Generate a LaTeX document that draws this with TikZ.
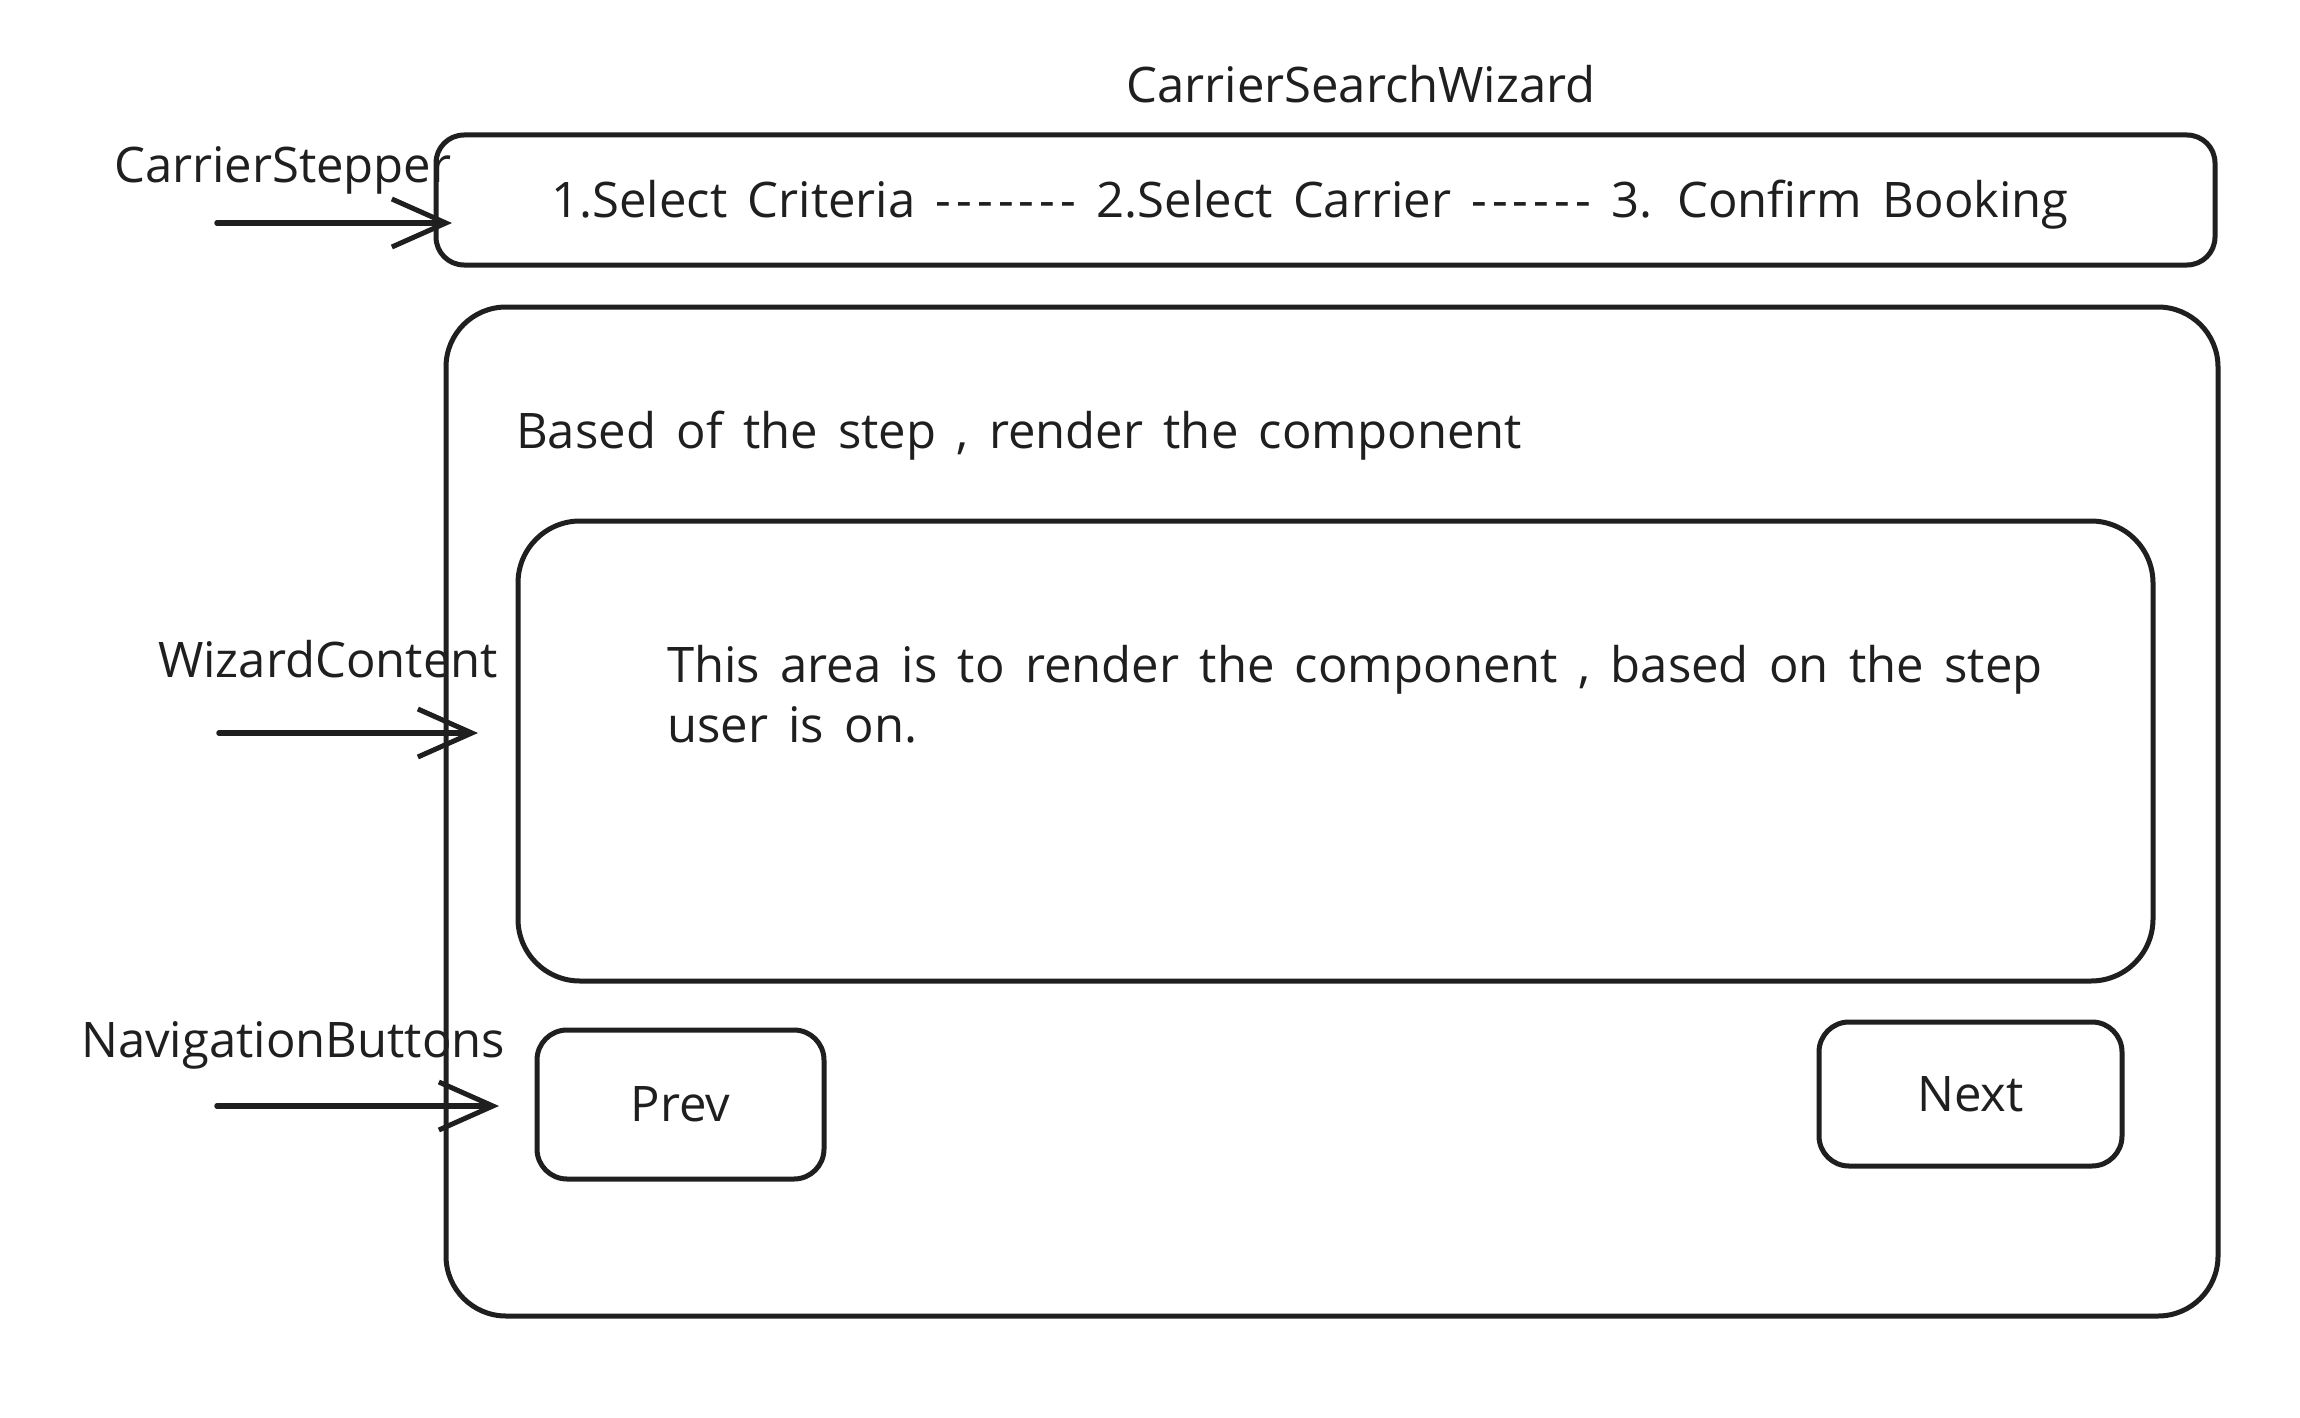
\documentclass[tikz,border=0pt]{standalone}
\usepackage{fontspec}
\setmainfont{Open Sans}[WordSpace=1.6]
\usetikzlibrary{arrows.meta}
\newcommand\hy{\hbox{-}\kern5pt}
\begin{document}
\begin{tikzpicture}[x=1pt,y=-1pt,
  box/.style={draw=black!88, line width=5pt, inner sep=0pt},
  txt/.style={font=\fontsize{49}{58}\selectfont, inner sep=0pt, text=black!88},
  arr/.style={draw=black!88, line width=5.5pt, line cap=round,
    -{Straight Barb[length=54pt,width=48pt,line width=5pt]}}]
\useasboundingbox[fill=white] (0,0) rectangle (2300,1418);
% boxes
\node[box, rounded corners=28pt, minimum width=1779pt, minimum height=130pt] (stepper) at (1325.5,200) {};
\node[box, rounded corners=60pt, minimum width=1772pt, minimum height=1009pt] (outer) at (1332,811.5) {};
\node[box, rounded corners=62pt, minimum width=1635pt, minimum height=460pt] (content) at (1335.5,751) {};
\node[box, rounded corners=30pt, minimum width=287pt, minimum height=149pt] (prev) at (680.5,1104.5) {};
\node[box, rounded corners=30pt, minimum width=303pt, minimum height=144pt] (next) at (1970.5,1094) {};
% texts
\node[txt] (title) at (1361,84) {CarrierSearchWizard};
\node[txt] (steps) at (1310,205) {1.Select Criteria \hy\hy\hy\hy\hy\hy\hbox{-} 2.Select Carrier \hy\hy\hy\hy\hy\hbox{-} 3. Confirm Booking};
\node[txt, anchor=west] (based) at (516,436) {Based of the step , render the component};
\node[txt, anchor=west] (line1) at (667,670) {This area is to render the component , based on the step};
\node[txt, anchor=west] (line2) at (667,725) {user is on.};
\node[txt] (prevt) at (prev.center) {Prev};
\node[txt] (nextt) at (next.center) {Next};
\node[txt, anchor=west] (lstep) at (114,170) {CarrierStepper};
\node[txt, anchor=west] (lwiz) at (158,659) {WizardContent};
\node[txt, anchor=west] (lnav) at (81,1045) {NavigationButtons};
% arrows
\coordinate (a1s) at (217,223); \coordinate (a1e) at (452,223);
\coordinate (a2s) at (219,733); \coordinate (a2e) at (478,733);
\coordinate (a3s) at (217,1106); \coordinate (a3e) at (499,1106);
\draw[arr] (a1s) -- (a1e);
\draw[arr] (a2s) -- (a2e);
\draw[arr] (a3s) -- (a3e);
\end{tikzpicture}
\end{document}
